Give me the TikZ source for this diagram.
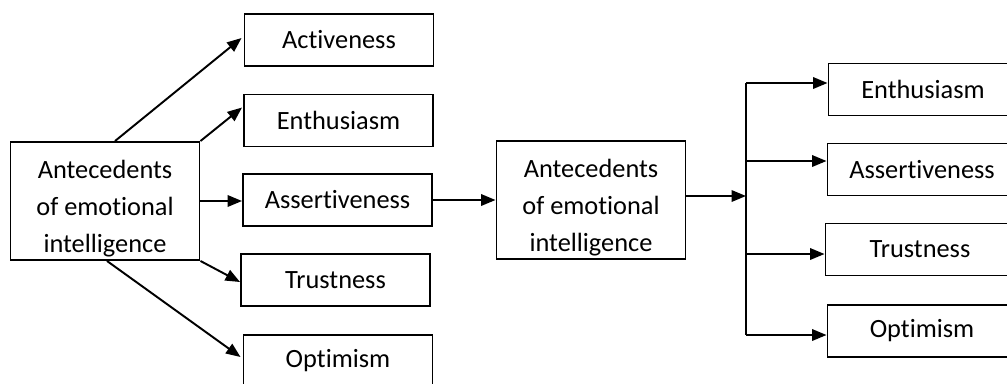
\documentclass[tikz,border=0pt]{standalone}
\usepackage{fontspec}
\setmainfont{Carlito}[Ligatures=NoCommon]
\usetikzlibrary{
  arrows.meta,
  calc
}
\tikzset{
  trait box/.style={
    draw=black,
    line width=1.1pt,
    minimum width=189*0.02cm,
    minimum height=52*0.02cm,
    inner sep=0pt,
    font=\fontsize{15pt}{21pt}\selectfont
  },
  source box/.style={
    trait box,
    minimum height=118*0.02cm,
    align=center
  },
  link/.style={
    line width=1.1pt,
    -{Triangle[length=2.9mm,width=2.3mm]}
  },
  bus/.style={
    line width=1.1pt
  }
}

\begin{document}
\begin{tikzpicture}[x=0.02cm,y=-0.02cm]
    \useasboundingbox (0,0) rectangle (1007,383);
    \clip (0,0) rectangle (1007,383);

    % ---------- 左側 ----------
    \node[source box] (ante) at (105,201)
      {\parbox{3.6cm}{\centering\vspace*{9pt}Antecedents\\ of emotional\\ intelligence}};

    \node[trait box] (act)   at (339,40)  {Activeness};
    \node[trait box] (enth)  at (338.5,120.5) {Enthusiasm};
    \node[trait box] (asrt)  at (337.5,200) {Assertiveness};
    \node[trait box] (trust) at (335.5,280) {Trustness};
    \node[trait box] (opt)   at (338,361) {Optimism};

    \draw[link] ($(ante.north)+(10,0)$) -- ($(act.west)+(-2,-2)$);
    \draw[link] (ante.north east) -- ($(enth.west)+(-1,-13)$);
    \draw[link] (ante.east) -- (ante.east -| asrt.west);
    \draw[link] (ante.south east) -- ($(trust.west)+(0,2)$);
    \draw[link] ($(ante.south)+(2,0)$) -- ($(opt.west)+(-2,-4)$);

    % ---------- 中央 ----------
    \node[source box] (mid) at (591,200)
      {\parbox{3.6cm}{\centering\vspace*{9pt}Antecedents\\ of emotional\\ intelligence}};

    \draw[link] (asrt.east) -- (asrt.east -| mid.west);

    % ---------- 右側 ----------
    \node[trait box] (enth2)  at (923,89.5) {Enthusiasm};
    \node[trait box] (asrt2)  at (922,169.5) {Assertiveness};
    \node[trait box] (trust2) at (920,249.5) {Trustness};
    \node[trait box] (opt2)   at (922,331) {Optimism};

    % 分岐線
    \coordinate (hub) at (746,196);
    \coordinate (b1) at (746,83);
    \coordinate (b2) at (746,161);
    \coordinate (b3) at (746,254);
    \coordinate (b4) at (746,335);

    \draw[link] (hub -| mid.east) -- (hub);
    \draw[bus] (b1) -- (b4);
    \draw[link] (b1) -- (b1 -| enth2.west);
    \draw[link] (b2) -- (b2 -| asrt2.west);
    \draw[link] (b3) -- (b3 -| trust2.west);
    \draw[link] (b4) -- (b4 -| opt2.west);

  \end{tikzpicture}
\end{document}
